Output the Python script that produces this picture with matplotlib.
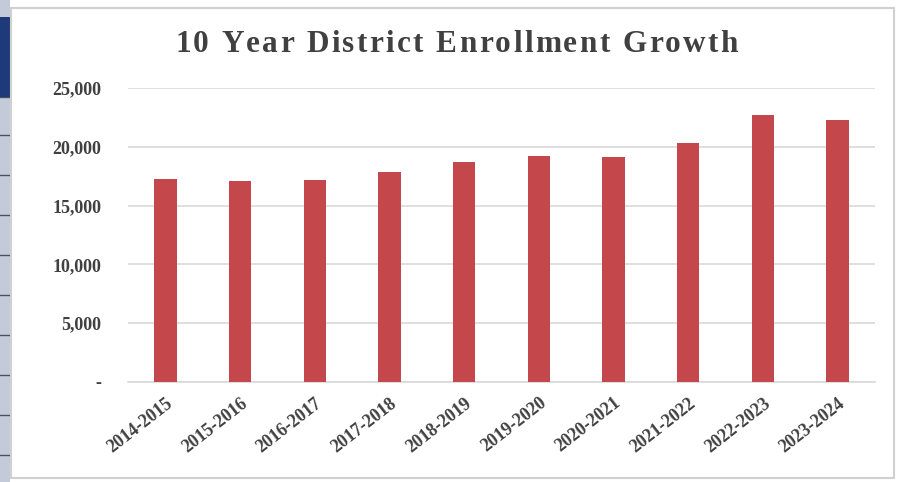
import matplotlib
matplotlib.use("Agg")
import matplotlib.pyplot as plt
from matplotlib.patches import Rectangle
from matplotlib.lines import Line2D
from matplotlib.ticker import FuncFormatter

years = ["2014-2015", "2015-2016", "2016-2017", "2017-2018", "2018-2019",
         "2019-2020", "2020-2021", "2021-2022", "2022-2023", "2023-2024"]
enrollment = [17240, 17120, 17180, 17880, 18730, 19240, 19160, 20300, 22700, 22280]
yticks = [0, 5000, 10000, 15000, 20000, 25000]
title = "10 Year District Enrollment Growth"

W, H = 902, 482
fig = plt.figure(figsize=(W / 100, H / 100), dpi=100)
fig.patch.set_facecolor("white")

# decorative left strip (screenshot edge)
fig.patches.append(Rectangle((0, 0), 10 / W, 1, transform=fig.transFigure,
                             facecolor="#c3cbd9", edgecolor="none", zorder=-3))
fig.patches.append(Rectangle((0, 1 - 97 / H), 10 / W, 80 / H, transform=fig.transFigure,
                             facecolor="#1f3a78", edgecolor="none", zorder=-2))
for yy in [97, 135, 175, 215, 255, 295, 335, 375, 415, 455]:
    fig.lines.append(Line2D([0, 10 / W], [1 - yy / H, 1 - yy / H], transform=fig.transFigure,
                            color="#4a5060", lw=1.0, zorder=-2))
# chart frame
fig.patches.append(Rectangle((11 / W, 4 / H), 883 / W, 470 / H, transform=fig.transFigure,
                             facecolor="white", edgecolor="#d0d0d0", lw=1.5, zorder=-1))

ax = fig.add_axes([128 / W, 1 - 382 / H, (875 - 128) / W, (382 - 88) / H])
ax.set_zorder(5)
ax.set_facecolor("none")
x = list(range(len(years)))
ax.bar(x, enrollment, width=0.3, color="#c4484b", zorder=3)
ax.set_xlim(-0.5, len(years) - 0.5)
ax.set_ylim(0, 25000)
ax.set_yticks(yticks)
ax.yaxis.set_major_formatter(FuncFormatter(lambda v, p: "-" if v == 0 else f"{int(v):,}"))
ax.grid(axis="y", color="#d9d9d9", lw=1.2, zorder=0)
for s in ["top", "right", "left"]:
    ax.spines[s].set_visible(False)
ax.spines["bottom"].set_color("#d9d9d9")
ax.spines["bottom"].set_linewidth(1.2)
ax.tick_params(axis="both", length=0)
ax.tick_params(axis="y", pad=19)
ax.set_xticks(x)
ax.set_xticklabels(years, rotation=38, ha="right", rotation_mode="anchor")
ax.tick_params(axis="x", pad=9)
for lbl in ax.get_yticklabels() + ax.get_xticklabels():
    lbl.set_fontfamily("Liberation Serif")
    lbl.set_fontweight("bold")
    lbl.set_fontsize(13)
    lbl.set_color("#404040")

# letter-spaced title (the reference title is widely spaced)
renderer = fig.canvas.get_renderer()
tkw = dict(fontfamily="Liberation Serif", fontweight="bold", fontsize=22.5, color="#404040")
widths = []
for ch in title:
    t = fig.text(0, 0, ch if ch != " " else "n", **tkw)
    w = t.get_window_extent(renderer).width
    t.remove()
    widths.append(w * (0.45 if ch == " " else 1.0))
target_left, target_right = 175, 738
extra = (target_right - target_left - sum(widths)) / (len(title) - 1)
xpos = target_left
for ch, w in zip(title, widths):
    if ch != " ":
        fig.text(xpos / W, 1 - 44 / H, ch, ha="left", va="center", **tkw)
    xpos += w + extra

fig.savefig("out.png", dpi=100)
